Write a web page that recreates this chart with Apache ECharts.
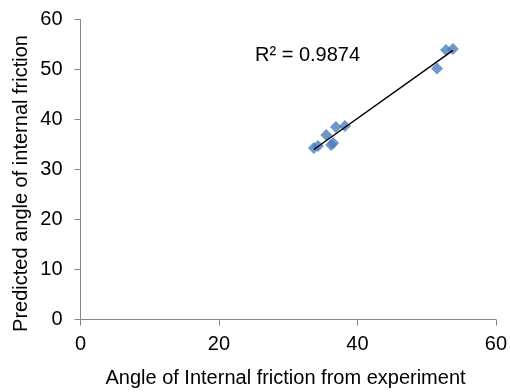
<!DOCTYPE html>
<html><head><meta charset="utf-8">
<script src="https://cdn.jsdelivr.net/npm/echarts@6/dist/echarts.min.js"></script>
<style>html,body{margin:0;padding:0;background:#fff}#c{width:510px;height:392px}</style>
</head><body><div id="c"></div>
<script>
var expX = [33.7, 34.3, 35.5, 36.2, 36.5, 36.9, 38.2, 51.5, 52.8, 53.8];
var predY = [34.3, 34.7, 36.9, 34.9, 35.3, 38.5, 38.7, 50.2, 53.9, 54.1];
var xTicks = [0, 20, 40, 60];
var yTicks = [0, 10, 20, 30, 40, 50, 60];
var r2Label = 'R² = 0.9874';
var xTitle = 'Angle of Internal friction from experiment';
var yTitle = 'Predicted angle of internal friction';

// linear least-squares trendline over the data
var n = expX.length, sx = 0, sy = 0, sxx = 0, sxy = 0;
for (var i = 0; i < n; i++) { sx += expX[i]; sy += predY[i]; sxx += expX[i]*expX[i]; sxy += expX[i]*predY[i]; }
var slope = (n*sxy - sx*sy) / (n*sxx - sx*sx), icpt = (sy - slope*sx) / n;
var xmin = Math.min.apply(null, expX), xmax = Math.max.apply(null, expX);
var trend = [[xmin, slope*xmin + icpt], [xmax, slope*xmax + icpt]];

var font = 'Liberation Sans, Arial, sans-serif';
var fs = 20;
var axisCol = '#868686';
var chart = echarts.init(document.getElementById('c'));
chart.setOption({
  animation: false,
  grid: { left: 80.5, right: 10.5, top: 19.5, bottom: 72.5 },
  xAxis: {
    type: 'value', min: xTicks[0], max: xTicks[xTicks.length-1], interval: xTicks[1]-xTicks[0],
    axisLine: { lineStyle: { color: axisCol, width: 1 } },
    axisTick: { show: true, length: 6, lineStyle: { color: axisCol } },
    axisLabel: { fontFamily: font, fontSize: fs, color: '#000', margin: 15 },
    splitLine: { show: false }
  },
  yAxis: {
    type: 'value', min: yTicks[0], max: yTicks[yTicks.length-1], interval: yTicks[1]-yTicks[0],
    axisLine: { show: true, lineStyle: { color: axisCol, width: 1 } },
    axisTick: { show: true, length: 6, lineStyle: { color: axisCol } },
    axisLabel: { fontFamily: font, fontSize: fs, color: '#000', margin: 18 },
    splitLine: { show: false }
  },
  graphic: [{
    type: 'text', x: 255, y: 55,
    style: { text: r2Label, font: fs + 'px ' + font, fill: '#000', textVerticalAlign: 'middle' }
  }, {
    type: 'text', x: 285.5, y: 378,
    style: { text: xTitle, font: fs + 'px ' + font, fill: '#000', textAlign: 'center', textVerticalAlign: 'middle' }
  }, {
    type: 'text', x: 21, y: 183.5, rotation: Math.PI / 2,
    style: { text: yTitle, font: fs + 'px ' + font, fill: '#000', textAlign: 'center', textVerticalAlign: 'middle' }
  }],
  series: [{
    type: 'scatter', data: expX.map(function (x, i) { return [x, predY[i]]; }),
    symbol: 'rect', symbolSize: 8.5, symbolRotate: 45,
    itemStyle: { color: '#4A7EBB' }, z: 2
  }, {
    type: 'line', data: trend, symbol: 'none',
    lineStyle: { color: '#000', width: 1.5 }, z: 3
  }]
});
</script></body></html>
